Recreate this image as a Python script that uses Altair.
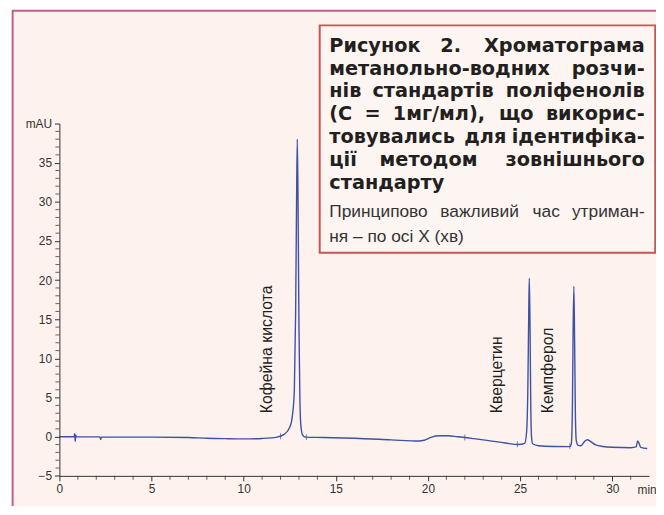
import altair as alt
import pandas as pd

# ---- chromatogram (time in min, absorbance in mAU) ----
time_min = [0, 0.8, 0.83, 0.86, 0.89, 0.92, 1.5, 2.2, 2.24, 2.28, 3, 5, 7, 8, 9, 10, 11, 11.8,
            12.2, 12.5, 12.65, 12.75, 12.82, 12.87, 12.91, 12.95, 13.0, 13.05, 13.1, 13.2, 13.35,
            14.3, 16, 18, 19.5, 19.8, 20.2, 20.6, 21.1, 21.6, 22.0, 22.5, 23.3, 24.2, 24.9,
            25.25, 25.35, 25.42, 25.47, 25.5, 25.54, 25.58, 25.62, 25.68, 26.0, 26.8, 27.7,
            27.78, 27.84, 27.88, 27.92, 27.96, 28.0, 28.05, 28.15, 28.3, 28.5, 28.65, 28.8,
            29.1, 29.5, 30.0, 31.0, 31.3, 31.38, 31.45, 31.55, 31.9]
mau = [0.0, 0.0, 0.4, -0.6, 0.2, 0.0, -0.02, -0.02, -0.35, -0.05, -0.05, -0.05, -0.1, -0.2, -0.25, -0.28, -0.22, -0.05,
       0.3, 1.2, 2.8, 6, 16, 30, 38.0, 30, 14, 5, 1.5, 0.2, -0.05,
       -0.1, -0.2, -0.4, -0.55, -0.45, -0.05, 0.13, 0.12, 0.0, -0.1, -0.25, -0.5, -0.8, -1.0,
       -0.85, 0.5, 6, 16, 20.25, 14, 4, 0, -0.9, -1.15, -1.25, -1.27,
       -0.9, 4, 14, 19.2, 12, 3, -0.5, -1.1, -1.15, -0.6, -0.38, -0.55,
       -1.05, -1.25, -1.35, -1.4, -1.3, -0.55, -0.8, -1.35, -1.5]

marker_t = [12.0, 13.4, 22.0, 24.85, 27.7]
marker_v = [0.05, -0.05, -0.1, -0.95, -1.2]

peak_names = ["Кофейна кислота", "Кверцетин", "Кемпферол"]
peak_label_t = [11.27, 23.74, 26.5]
peak_label_v = [3.0, 3.0, 3.0]

x_major = [0, 5, 10, 15, 20, 25, 30]
x_minor = [float(v) for v in range(0, 32) if v % 5 != 0]
y_major = [-5, 0, 5, 10, 15, 20, 25, 30, 35, 40]
y_minor = [float(v) for v in range(-5, 41) if v % 5 != 0]

# caption text: (words of the line, justified?)
title_lines = [
    (["Рисунок", "2.", "Хроматограма"], True),
    (["метанольно-водних", "розчи-"], True),
    (["нів", "стандартів", "поліфенолів"], True),
    (["(С", "=", "1мг/мл),", "що", "викорис-"], True),
    (["товувались", "для", "ідентифіка-"], True),
    (["ції", "методом", "зовнішнього"], True),
    (["стандарту"], False),
]
subtitle_lines = [
    (["Принципово", "важливий", "час", "утриман-"], True),
    (["ня – по осі Х (хв)"], False),
]

df = pd.DataFrame({"t": time_min, "v": mau})
mk = pd.DataFrame({"t": marker_t, "v": marker_v})
lab = pd.DataFrame({"name": peak_names, "t": peak_label_t, "v": peak_label_v})
xmin_df = pd.DataFrame({"t": x_minor, "v": [-5.0] * len(x_minor)})
ymin_df = pd.DataFrame({"t": [0.0] * len(y_minor), "v": y_minor})
one = pd.DataFrame({"a": [0]})

W = 32 * 18.64
H = 45 * 7.92
FONT = "Liberation Sans"
BOLDFONT = "DejaVu Sans"
BLUE = "#3d51a5"
AX = "#333333"

# approximate glyph advance widths (em) used only to justify the caption lines
BOLD_W = {"і": .343, "ї": .343, "ф": .96, "м": .86, "ш": 1.0, "щ": 1.02, "ю": 1.0, "с": .593,
          "т": .6, "г": .55, "з": .6, "д": .75, "у": .652, "ь": .66, "(": .457, ")": .457,
          ",": .38, ".": .38, "=": .838, "/": .365, "-": .415, "Р": .733, "С": .734, "Х": .774,
          "1": .696, "2": .696}
REG_W = {"і": .222, "П": .722, "Х": .667, " ": .278, "–": .556, "(": .333, ")": .333, "ж": .75,
         "ш": .8, "м": .68, "т": .45, "с": .5, "у": .5, "ч": .5, "-": .333, "в": .53}


def est(word, table, default, size):
    return sum(table.get(c, default) for c in word) * size


xscale = alt.Scale(domain=[0, 32], nice=False, zero=False)
yscale = alt.Scale(domain=[-5, 40], nice=False, zero=False)

frame = alt.Chart(one).mark_rect(fill="#fdf2ed", stroke="#c0608a", strokeWidth=2).encode(
    x=alt.value(-47.3), x2=alt.value(720), y=alt.value(-114), y2=alt.value(520))

box = alt.Chart(one).mark_rect(fill="#fdf5f2", stroke="#c65652", strokeWidth=2).encode(
    x=alt.value(263.3), x2=alt.value(602.7), y=alt.value(-99.3), y2=alt.value(130.7))

common = dict(tickColor=AX, domainColor=AX, tickWidth=1, domainWidth=1, labelColor=AX,
              labelFont=FONT, labelFontSize=12, labelOverlap=False, labelFlush=False,
              grid=False, zindex=1, tickCount=200, tickSize=5, labelPadding=3)

line = alt.Chart(df).mark_line(color=BLUE, strokeWidth=1.4, interpolate="monotone").encode(
    x=alt.X("t:Q", scale=xscale,
            axis=alt.Axis(values=x_major, format="d",
                          title="min", titleFont=FONT, titleFontSize=12, titleFontWeight="normal",
                          titleColor=AX, titleX=594, titleY=9, titleBaseline="top",
                          titleAlign="center", titleAnchor="start", **common)),
    y=alt.Y("v:Q", scale=yscale,
            axis=alt.Axis(values=y_major,
                          labelExpr="datum.value == 40 ? 'mAU' : format(datum.value, 'd')",
                          title=None, **common)),
)

# minor ticks (every 1 min / 1 mAU), placed through the same scales, offset outward
x_minor_ticks = alt.Chart(xmin_df).mark_tick(color="#222222", orient="vertical", size=4,
                                             thickness=1, yOffset=2).encode(
    x=alt.X("t:Q", scale=xscale), y=alt.Y("v:Q", scale=yscale))
y_minor_ticks = alt.Chart(ymin_df).mark_tick(color="#222222", orient="horizontal", size=4,
                                             thickness=1, xOffset=-2).encode(
    x=alt.X("t:Q", scale=xscale), y=alt.Y("v:Q", scale=yscale))

markers = alt.Chart(mk).mark_tick(color=BLUE, orient="vertical", size=6, thickness=1).encode(
    x=alt.X("t:Q", scale=xscale), y=alt.Y("v:Q", scale=yscale))

labels = alt.Chart(lab).mark_text(angle=270, align="left", baseline="middle", font=FONT,
                                   fontSize=16, color="#1e1e1e").encode(
    x=alt.X("t:Q", scale=xscale), y=alt.Y("v:Q", scale=yscale),
    text="name:N")

LEFT, RIGHT = 273, 592
word_layers = []


def add_lines(lines, y0, dy, size, weight, color, font, table, default):
    for i, (words, justify) in enumerate(lines):
        y = y0 + i * dy
        widths = [est(w, table, default, size) for w in words]
        if justify and len(words) > 1:
            gap = (RIGHT - LEFT - sum(widths)) / (len(words) - 1)
        else:
            gap = size * 0.3
        xcur = LEFT
        for j, (w, wd) in enumerate(zip(words, widths)):
            if justify and j == len(words) - 1 and j > 0:
                x, a = RIGHT, "right"
            else:
                x, a = xcur, "left"
            word_layers.append(
                alt.Chart(one).mark_text(text=w, align=a, baseline="alphabetic", font=font,
                                         fontSize=size, fontWeight=weight, color=color).encode(
                    x=alt.value(x), y=alt.value(y)))
            xcur += wd + gap


add_lines(title_lines, -72.7, 23.1, 19.5, "bold", "#231f20", BOLDFONT, BOLD_W, 0.70)
add_lines(subtitle_lines, 94.7, 25.0, 17.5, "normal", "#333333", FONT, REG_W, 0.55)

chart = alt.layer(frame, box, line, x_minor_ticks, y_minor_ticks, markers, labels,
                  *word_layers).properties(
    width=W, height=H,
    autosize=alt.AutoSizeParams(type="none"),
    padding={"left": 52, "top": 114, "right": 7, "bottom": 28},
    background="#ffffff",
).configure_view(stroke=None)

chart.save("out.html", embed_options={"renderer": "svg", "actions": False})
